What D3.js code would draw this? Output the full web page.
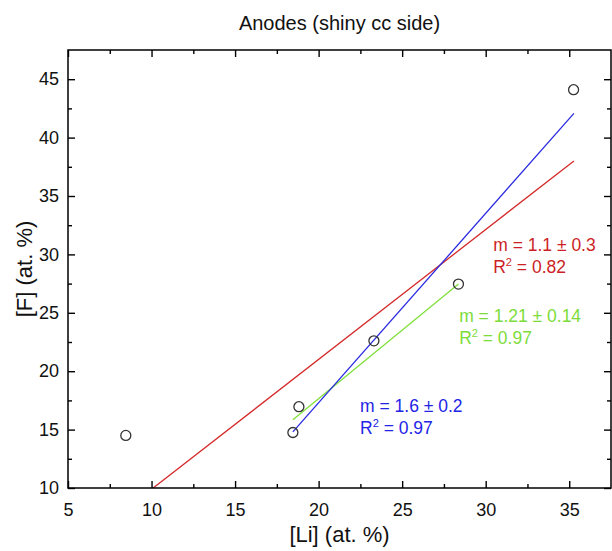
<!DOCTYPE html>
<html>
<head>
<meta charset="utf-8">
<title>Anodes (shiny cc side)</title>
<script src="https://cdn.jsdelivr.net/npm/d3@7"></script>
<style>
  body { margin: 0; background: #fff; }
  svg { display: block; font-family: "Liberation Sans", Arial, sans-serif; }
</style>
</head>
<body>
<div id="chart"></div>
<script>
// measured points
var liValues = [8.46, 18.46, 18.82, 23.31, 28.37, 35.26];
var fValues = [14.5, 14.75, 16.96, 22.6, 27.46, 44.1];

// linear fits, end points
var fitStartX = [8.46, 18.46, 18.46];
var fitStartY = [8.18, 15.85, 14.8];
var fitEndX = [35.28, 28.37, 35.28];
var fitEndY = [38.0, 27.46, 42.08];
var fitSlopes = ["m = 1.1 \u00b1 0.3", "m = 1.21 \u00b1 0.14", "m = 1.6 \u00b1 0.2"];
var fitR2 = ["0.82", "0.97", "0.97"];

var xTicks = [5, 10, 15, 20, 25, 30, 35];
var xMinor = [7.5, 12.5, 17.5, 22.5, 27.5, 32.5];
var yTicks = [10, 15, 20, 25, 30, 35, 40, 45];
var yMinor = [12.5, 17.5, 22.5, 27.5, 32.5, 37.5, 42.5];

(function(){
    var W = 612, H = 551;
    var L = 68, T = 50, R = 611, B = 488;
    var colors = ["#d42a2a", "#80e03a", "#2a2ae0"];
    var textColors = ["#cc1f26", "#7ddc3a", "#2323e6"];
    // where each fit label starts (data coords, baseline of first line)
    var labelAt = [[30.45, 30.27], [28.41, 24.2], [22.48, 16.48]];

    var x = d3.scaleLinear().domain([5, 37.5]).range([L, R]);
    var y = d3.scaleLinear().domain([10, 47.5]).range([B, T]);

    var svg = d3.select("#chart").append("svg")
        .attr("width", W).attr("height", H);

    svg.append("clipPath").attr("id", "plot")
       .append("rect").attr("x", L).attr("y", T).attr("width", R - L).attr("height", B - T);

    // fit lines
    var fits = fitStartX.map(function(d, i){
        return [[fitStartX[i], fitStartY[i]], [fitEndX[i], fitEndY[i]]];
    });
    var line = d3.line().x(function(d){ return x(d[0]); }).y(function(d){ return y(d[1]); });
    svg.append("g").attr("clip-path", "url(#plot)")
       .selectAll("path").data(fits).enter().append("path")
       .attr("d", line)
       .attr("fill", "none")
       .attr("stroke", function(d, i){ return colors[i]; })
       .attr("stroke-width", 1.3);

    // points
    svg.append("g").selectAll("circle").data(liValues).enter().append("circle")
       .attr("cx", function(d){ return x(d); })
       .attr("cy", function(d, i){ return y(fValues[i]); })
       .attr("r", 5)
       .attr("fill", "none")
       .attr("stroke", "#333")
       .attr("stroke-width", 1.3);

    // axes, ticks pointing inward on all four sides
    var addAxis = function(axis, tx, ty, labels){
        var g = svg.append("g").attr("transform", "translate(" + tx + "," + ty + ")").call(axis);
        g.select(".domain").remove();
        g.selectAll("line").attr("stroke", "#000").attr("stroke-width", 1.4);
        if(!labels){
            g.selectAll("text").remove();
        }else{
            g.selectAll("text").attr("font-size", 18).attr("fill", "#111").attr("font-family", null);
        }
        return g;
    };
    addAxis(d3.axisBottom(x).tickValues(xTicks).tickSize(-7).tickPadding(15).tickFormat(d3.format("d")), 0, B, true);
    addAxis(d3.axisBottom(x).tickValues(xMinor).tickSize(-4).tickFormat(""), 0, B, false);
    addAxis(d3.axisTop(x).tickValues(xTicks).tickSize(-7), 0, T, false);
    addAxis(d3.axisTop(x).tickValues(xMinor).tickSize(-4), 0, T, false);
    addAxis(d3.axisLeft(y).tickValues(yTicks).tickSize(-7).tickPadding(9).tickFormat(d3.format("d")), L, 0, true);
    addAxis(d3.axisLeft(y).tickValues(yMinor).tickSize(-4).tickFormat(""), L, 0, false);
    addAxis(d3.axisRight(y).tickValues(yTicks).tickSize(-7), R, 0, false);
    addAxis(d3.axisRight(y).tickValues(yMinor).tickSize(-4), R, 0, false);

    svg.append("rect")
       .attr("x", L).attr("y", T).attr("width", R - L).attr("height", B - T)
       .attr("fill", "none").attr("stroke", "#000").attr("stroke-width", 1.5);

    // fit labels
    fitSlopes.forEach(function(s, i){
        var tx = x(labelAt[i][0]), ty = y(labelAt[i][1]);
        var g = svg.append("g").attr("fill", textColors[i]).attr("font-size", 17.5);
        g.append("text").attr("x", tx).attr("y", ty).text(s);
        var t = g.append("text").attr("x", tx).attr("y", ty + 22);
        t.append("tspan").text("R");
        t.append("tspan").attr("font-size", 11).attr("dy", -7).text("2");
        t.append("tspan").attr("dy", 7).text(" = " + fitR2[i]);
    });

    svg.append("text").attr("x", (L + R) / 2).attr("y", 30)
       .attr("text-anchor", "middle").attr("font-size", 20).attr("fill", "#111")
       .text("Anodes (shiny cc side)");
    svg.append("text").attr("x", (L + R) / 2).attr("y", 542)
       .attr("text-anchor", "middle").attr("font-size", 22).attr("fill", "#111")
       .text("[Li] (at. %)");
    svg.append("text")
       .attr("transform", "translate(32," + ((T + B) / 2) + ") rotate(-90)")
       .attr("text-anchor", "middle").attr("font-size", 22).attr("fill", "#111")
       .text("[F] (at. %)");
})();
</script>
</body>
</html>
